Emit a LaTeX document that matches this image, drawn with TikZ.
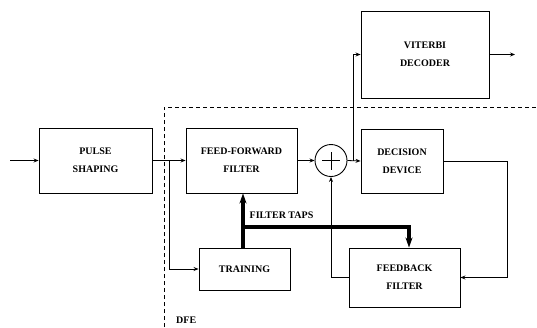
\documentclass[tikz,border=0pt]{standalone}
\usepackage{fontspec}
\setmainfont{Liberation Serif}
\usetikzlibrary{arrows.meta,positioning}
\tikzset{
  blk/.style={rectangle,draw,line width=0.9pt,inner sep=0pt,
              align=center,font=\fontsize{10}{18}\selectfont\bfseries},
  sumnode/.style={circle,draw,line width=0.9pt,minimum size=32pt,inner sep=0pt},
  arr/.style={-{Stealth[length=5pt,width=4pt]},line width=0.8pt},
  tap/.style={-{Stealth[length=10pt,width=7pt]},line width=3.4pt},
  dfe/.style={line width=0.8pt,dash pattern=on 4pt off 3pt},
  lbl/.style={font=\fontsize{10}{12}\selectfont\bfseries,inner sep=0pt}
}
\begin{document}
\begin{tikzpicture}[x=1pt,y=1pt]
  \useasboundingbox (0,0) rectangle (537,-327);

  % blocks
  \node[blk,minimum width=113pt,minimum height=65pt] (pulse) at (95.5,-160.5) {PULSE\\SHAPING};
  \node[blk,minimum width=111pt,minimum height=65pt] (ff) at (241.5,-160.5) {FEED-FORWARD\\FILTER};
  \node[blk,minimum width=91pt,minimum height=42pt] (train) at (244.5,-269) {TRAINING};
  \node[sumnode] (sum) at (331,-160.5) {};
  \node[blk,minimum width=82pt,minimum height=64pt] (dec) at (402,-161) {DECISION\\DEVICE};
  \node[blk,minimum width=128pt,minimum height=87pt] (vit) at (425,-54.5) {VITERBI\\DECODER};
  \node[blk,minimum width=111pt,minimum height=59pt] (fb) at (404.5,-277.5) {FEEDBACK\\FILTER};
  \draw[line width=0.9pt] ([xshift=-9pt]sum.center) -- ([xshift=9pt]sum.center)
                          ([yshift=-9pt]sum.center) -- ([yshift=9pt]sum.center);

  % DFE boundary
  \draw[dfe] (164,-327) |- (537,-107);
  \node[lbl,anchor=west] (dfelbl) at (176,-320) {DFE};
  \node[lbl] (taplbl) at (281.5,-215) {FILTER TAPS};

  \coordinate (in) at (10,-160.5);
  \coordinate (br) at (169,-160.5);
  \coordinate (br2) at (353,-160.5);
  \coordinate (out) at (515,-54.5);
  \coordinate (rt) at (507,-277.5);
  \coordinate (tj) at (243,-227);

  \draw[arr] (in) -- (pulse.west);
  \draw[arr] (pulse.east) -- (ff.west);
  \draw[arr] (br) |- (train.west);
  \draw[arr] (ff.east) -- (sum.west);
  \draw[arr] (sum.east) -- (dec.west);
  \draw[arr] (br2) |- (vit.west);
  \draw[arr] (vit.east) -- (out);
  \draw[arr] (dec.east) -| (rt) -- (fb.east);
  \draw[arr] (fb.west) -| (sum.south);

  % filter taps
  \draw[tap] (tj |- train.north) -- (tj |- ff.south);
  \draw[tap] ([xshift=-1.7pt]tj) -| ([xshift=4.5pt]fb.north);
\end{tikzpicture}
\end{document}
